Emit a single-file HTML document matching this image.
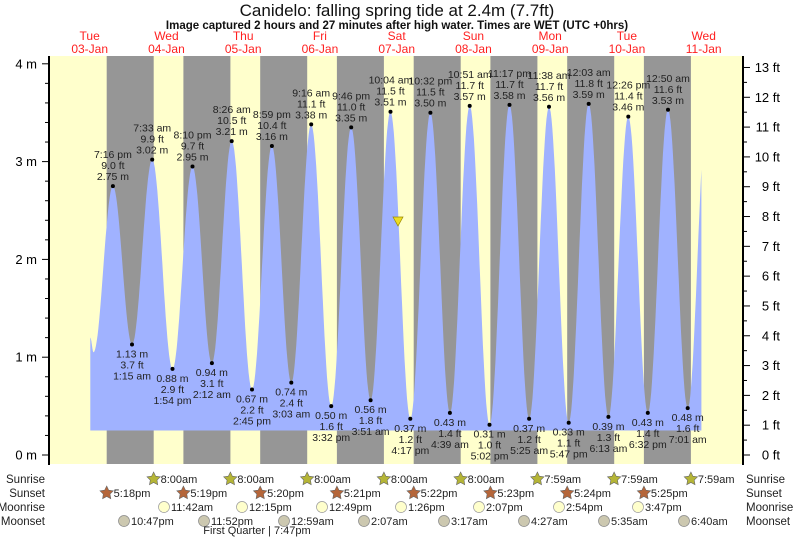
<!DOCTYPE html>
<html><head><meta charset="utf-8"><style>
body{margin:0;background:#fff;}
svg{display:block;font-family:"Liberation Sans",sans-serif;}
</style></head><body>
<svg id="s" width="793" height="538" xmlns="http://www.w3.org/2000/svg"></svg>
<script>
var s=document.getElementById('s');var h='';
var X0=51.3,D=76.75,Y0=455,M=97.8;
function X(d){return X0+d*D}function Y(m){return Y0-m*M}
h+='<rect x="49" y="56" width="694" height="408" fill="#ffffcc"/>';
for(var i=0;i<8;i++){var a=X(i+0.7215),b=X(i+1.3333);h+='<rect x="'+a.toFixed(1)+'" y="56" width="'+(b-a).toFixed(1)+'" height="408" fill="#969696"/>';}
var ex=[[0.508,1.2],[0.55,1.05],[0.803,2.75],[1.052,1.13],[1.315,3.02],[1.579,0.88],[1.840,2.95],[2.092,0.94],[2.351,3.21],[2.615,0.67],[2.874,3.16],[3.127,0.74],[3.386,3.38],[3.647,0.50],[3.907,3.35],[4.160,0.56],[4.419,3.51],[4.678,0.37],[4.939,3.50],[5.194,0.43],[5.452,3.57],[5.710,0.31],[5.970,3.58],[6.226,0.37],[6.485,3.56],[6.741,0.33],[7.002,3.59],[7.259,0.39],[7.518,3.46],[7.772,0.43],[8.035,3.53],[8.292,0.48],[8.55,3.6]];
var END=8.47;
var p='M'+X(0.508).toFixed(1)+','+Y(0.25)+' L'+X(0.508).toFixed(1)+','+Y(1.2).toFixed(1);
for(var k=0;k<ex.length-1;k++){var A=ex[k],B=ex[k+1];for(var j=1;j<=24;j++){var t=j/24,d=A[0]+(B[0]-A[0])*t;if(d>END){t=(END-A[0])/(B[0]-A[0]);d=END;}var m=A[1]+(B[1]-A[1])*(1-Math.cos(Math.PI*t))/2;p+=' L'+X(d).toFixed(1)+','+Y(m).toFixed(1);if(d>=END)break;}}
p+=' L'+X(END).toFixed(1)+','+Y(0.25)+' Z';
h+='<path d="'+p+'" fill="#a0b2ff"/>';
var lab=[[0.803,2.75,'7:16 pm','9.0 ft',1],[1.052,1.13,'1:15 am','3.7 ft',0],[1.315,3.02,'7:33 am','9.9 ft',1],[1.579,0.88,'1:54 pm','2.9 ft',0],[1.840,2.95,'8:10 pm','9.7 ft',1],[2.092,0.94,'2:12 am','3.1 ft',0],[2.351,3.21,'8:26 am','10.5 ft',1],[2.615,0.67,'2:45 pm','2.2 ft',0],[2.874,3.16,'8:59 pm','10.4 ft',1],[3.127,0.74,'3:03 am','2.4 ft',0],[3.386,3.38,'9:16 am','11.1 ft',1],[3.647,0.50,'3:32 pm','1.6 ft',0],[3.907,3.35,'9:46 pm','11.0 ft',1],[4.160,0.56,'3:51 am','1.8 ft',0],[4.419,3.51,'10:04 am','11.5 ft',1],[4.678,0.37,'4:17 pm','1.2 ft',0],[4.939,3.50,'10:32 pm','11.5 ft',1],[5.194,0.43,'4:39 am','1.4 ft',0],[5.452,3.57,'10:51 am','11.7 ft',1],[5.710,0.31,'5:02 pm','1.0 ft',0],[5.970,3.58,'11:17 pm','11.7 ft',1],[6.226,0.37,'5:25 am','1.2 ft',0],[6.485,3.56,'11:38 am','11.7 ft',1],[6.741,0.33,'5:47 pm','1.1 ft',0],[7.002,3.59,'12:03 am','11.8 ft',1],[7.259,0.39,'6:13 am','1.3 ft',0],[7.518,3.46,'12:26 pm','11.4 ft',1],[7.772,0.43,'6:32 pm','1.4 ft',0],[8.035,3.53,'12:50 am','11.6 ft',1],[8.292,0.48,'7:01 am','1.6 ft',0]];
lab.forEach(function(l){var x=X(l[0]),y=Y(l[1]);h+='<circle cx="'+x.toFixed(1)+'" cy="'+y.toFixed(1)+'" r="2" fill="#000"/>';
var t='<text font-size="10.5" fill="#222" text-anchor="middle">';
if(l[4]){h+=t+'<tspan x="'+x+'" y="'+(y-28)+'">'+l[2]+'</tspan><tspan x="'+x+'" y="'+(y-17)+'">'+l[3]+'</tspan><tspan x="'+x+'" y="'+(y-6)+'">'+l[1].toFixed(2)+' m</tspan></text>';}
else{h+=t+'<tspan x="'+x+'" y="'+(y+13)+'">'+l[1].toFixed(2)+' m</tspan><tspan x="'+x+'" y="'+(y+24)+'">'+l[3]+'</tspan><tspan x="'+x+'" y="'+(y+35)+'">'+l[2]+'</tspan></text>';}});
h+='<polygon points="393,217 403,217 398,226" fill="#eedd22" stroke="#998800" stroke-width="0.7"/>';
h+='<line x1="49" y1="56" x2="49" y2="465" stroke="#000" stroke-width="2"/><line x1="743" y1="56" x2="743" y2="465" stroke="#000" stroke-width="2"/>';
for(var v=0;v<=4.01;v+=0.2){var y=Y(v),mj=Math.abs(v-Math.round(v))<0.01;h+='<line x1="'+(mj?42:45)+'" y1="'+y+'" x2="49" y2="'+y+'" stroke="#000"/>';if(mj)h+='<text x="37" y="'+(y+4.5)+'" font-size="13" text-anchor="end">'+Math.round(v)+' m</text>';}
for(var f=0;f<=13.01;f+=0.5){var y=Y(f*0.3048),mj=Math.abs(f-Math.round(f))<0.01;h+='<line x1="743" y1="'+y+'" x2="'+(mj?750:747)+'" y2="'+y+'" stroke="#000"/>';if(mj)h+='<text x="780" y="'+(y+4.5)+'" font-size="13" text-anchor="end">'+Math.round(f)+' ft</text>';}
h+='<text x="397" y="16" font-size="17" text-anchor="middle" fill="#111">Canidelo: falling  spring tide at 2.4m (7.7ft)</text>';
h+='<text x="397" y="29" font-size="11.5" font-weight="bold" text-anchor="middle" fill="#111">Image captured 2 hours and 27 minutes after high water. Times are WET (UTC +0hrs)</text>';
var dn=['Tue','Wed','Thu','Fri','Sat','Sun','Mon','Tue','Wed'],dd=['03','04','05','06','07','08','09','10','11'];
for(var i=0;i<9;i++){var x=X(i+0.5);h+='<text x="'+x+'" y="40" font-size="12" fill="#ff2020" text-anchor="middle">'+dn[i]+'</text><text x="'+x+'" y="53" font-size="12" fill="#ff2020" text-anchor="middle">'+dd[i]+'-Jan</text>';}
var rows=['Sunrise','Sunset','Moonrise','Moonset'],ry=[479,493,507,521];
for(var r=0;r<4;r++){h+='<text x="45" y="'+(ry[r]+4)+'" font-size="11.5" text-anchor="end" fill="#222">'+rows[r]+'</text><text x="746" y="'+(ry[r]+4)+'" font-size="11.5" fill="#222">'+rows[r]+'</text>';}
function star(x,y,c){var pt='';for(var i=0;i<10;i++){var a=-Math.PI/2+i*Math.PI/5,rr=i%2?3.5:7;pt+=(x+rr*Math.cos(a)).toFixed(1)+','+(y+rr*Math.sin(a)).toFixed(1)+' ';}return '<polygon points="'+pt+'" fill="'+c+'" stroke="#666" stroke-width="0.6"/>';}
var sr=['8:00am','8:00am','8:00am','8:00am','8:00am','7:59am','7:59am','7:59am'];
var ss=['5:18pm','5:19pm','5:20pm','5:21pm','5:22pm','5:23pm','5:24pm','5:25pm'];
var mr=['11:42am','12:15pm','12:49pm','1:26pm','2:07pm','2:54pm','3:47pm'],mrx=[164,242,322,401,479,559,638];
var ms=['10:47pm','11:52pm','12:59am','2:07am','3:17am','4:27am','5:35am','6:40am'],msx=[124,204,284,364,444,524,604,684];
for(var i=0;i<8;i++){var x=X(i+1.3333);h+=star(x,ry[0],'#b5b536')+'<text x="'+(x+7)+'" y="'+(ry[0]+4)+'" font-size="11" fill="#222">'+sr[i]+'</text>';
x=X(i+0.7215);h+=star(x,ry[1],'#b5663a')+'<text x="'+(x+7)+'" y="'+(ry[1]+4)+'" font-size="11" fill="#222">'+ss[i]+'</text>';
h+='<circle cx="'+msx[i]+'" cy="'+ry[3]+'" r="5.5" fill="#ccc8b0" stroke="#888" stroke-width="0.7"/><text x="'+(msx[i]+7)+'" y="'+(ry[3]+4)+'" font-size="11" fill="#222">'+ms[i]+'</text>';}
for(var i=0;i<7;i++)h+='<circle cx="'+mrx[i]+'" cy="'+ry[2]+'" r="5.5" fill="#ffffcc" stroke="#999" stroke-width="0.7"/><text x="'+(mrx[i]+7)+'" y="'+(ry[2]+4)+'" font-size="11" fill="#222">'+mr[i]+'</text>';
h+='<text x="257" y="534" font-size="11" text-anchor="middle" fill="#222">First Quarter | 7:47pm</text>';
s.innerHTML=h;
</script>
</body></html>
